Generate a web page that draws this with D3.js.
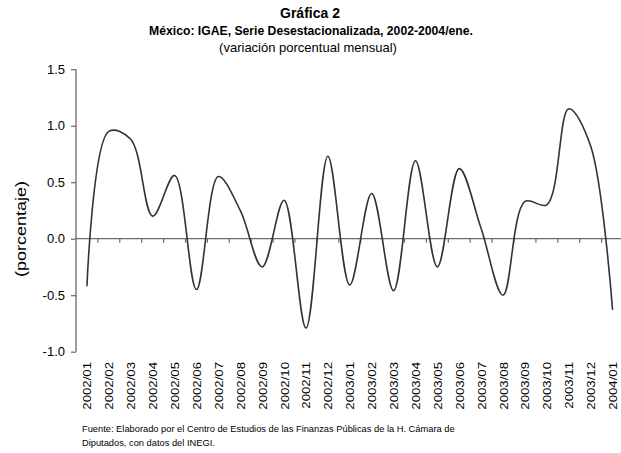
<!DOCTYPE html>
<html>
<head>
<meta charset="utf-8">
<script src="https://cdn.jsdelivr.net/npm/d3@7"></script>
<style>
  html, body { margin: 0; padding: 0; background: #fff; }
  svg { display: block; }
  text { font-family: "Liberation Sans", Arial, sans-serif; fill: #000; }
</style>
</head>
<body>
<svg id="chart" width="621" height="453"></svg>
<script>
const categories = ["2002/01","2002/02","2002/03","2002/04","2002/05","2002/06","2002/07","2002/08","2002/09","2002/10","2002/11","2002/12",
  "2003/01","2003/02","2003/03","2003/04","2003/05","2003/06","2003/07","2003/08","2003/09","2003/10","2003/11","2003/12","2004/01"];
const values = [-0.42, 0.95, 0.88, 0.20, 0.56, -0.45, 0.55, 0.25, -0.25, 0.34, -0.79, 0.73,
  -0.41, 0.40, -0.46, 0.69, -0.25, 0.62, 0.09, -0.50, 0.33, 0.30, 1.15, 0.82, -0.63];
const yTicks = [-1.0, -0.5, 0.0, 0.5, 1.0, 1.5];
const titleLines = ["Gráfica 2", "México: IGAE, Serie Desestacionalizada, 2002-2004/ene.", "(variación porcentual mensual)"];
const yTitle = "(porcentaje)";
const sourceLines = ["Fuente: Elaborado por el Centro de Estudios de las Finanzas Públicas de la H. Cámara de",
  "Diputados, con datos del INEGI."];

(function () {
const svg = d3.select("#chart");
const pl = 76, pr = 623.5, pt = 69.2, pb = 351.7;

const x = d3.scaleBand().domain(categories).range([pl, pr]).paddingInner(0).paddingOuter(0);
const y = d3.scaleLinear().domain([-1, 1.5]).range([pb, pt]);
const axisColor = "#6b6b6b";

// Title
svg.append("text").attr("x", 310).attr("y", 18).attr("text-anchor", "middle")
  .style("font-size", "14px").style("font-weight", "bold").text(titleLines[0]);
svg.append("text").attr("x", 311).attr("y", 35).attr("text-anchor", "middle")
  .style("font-size", "12.2px").style("font-weight", "bold").text(titleLines[1]);
svg.append("text").attr("x", 308).attr("y", 52).attr("text-anchor", "middle")
  .style("font-size", "13px").text(titleLines[2]);

// Y axis
const fmt = d => d3.format(".1f")(d).replace("\u2212", "-");
const yAxis = d3.axisLeft(y).tickValues(yTicks).tickFormat(fmt).tickSize(5).tickPadding(6);
const gy = svg.append("g").attr("transform", `translate(${pl},0)`).call(yAxis);
gy.select(".domain").attr("stroke", axisColor).attr("stroke-width", 1.3).attr("d", `M0,${pt}V${pb}`);
gy.selectAll(".tick line").attr("stroke", axisColor).attr("stroke-width", 1.2);
gy.selectAll(".tick text").style("font-size", "13px").style("font-family", "Liberation Sans, Arial, sans-serif").attr("fill", "#000");

// Zero line with category boundary ticks
const gx = svg.append("g").attr("transform", `translate(0,${y(0)})`);
gx.append("line").attr("x1", pl).attr("x2", 621).attr("y1", 0).attr("y2", 0)
  .attr("stroke", axisColor).attr("stroke-width", 1.3);
gx.selectAll("line.tk").data(categories.slice(1)).enter().append("line").attr("class", "tk")
  .attr("x1", d => x(d)).attr("x2", d => x(d)).attr("y1", 0).attr("y2", 4)
  .attr("stroke", axisColor).attr("stroke-width", 1.2);

// X labels
svg.append("g").selectAll("text").data(categories).enter().append("text")
  .attr("transform", d => `translate(${x(d) + x.bandwidth() / 2 + 0.5},362) rotate(-90) scale(1.2,1)`)
  .attr("text-anchor", "end").attr("dy", "0.36em")
  .style("font-size", "11px").text(d => d);

// Y title
svg.append("text").attr("transform", "translate(26,229) rotate(-90) scale(1.2,1)")
  .attr("text-anchor", "middle").style("font-size", "15px").text(yTitle);

// Line
const line = d3.line()
  .x((d, i) => x(categories[i]) + x.bandwidth() / 2)
  .y(d => y(d))
  .curve(d3.curveCatmullRom.alpha(0.5));
svg.append("path").datum(values).attr("d", line)
  .attr("fill", "none").attr("stroke", "#333").attr("stroke-width", 1.6);

// Source
svg.append("g").selectAll("text").data(sourceLines).enter().append("text")
  .attr("x", 82).attr("y", (d, i) => 432 + i * 14)
  .style("font-size", "9.3px").text(d => d);
})();
</script>
</body>
</html>
